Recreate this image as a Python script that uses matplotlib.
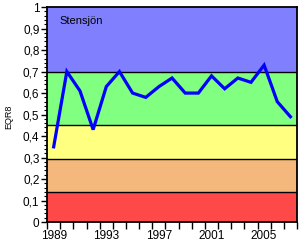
import matplotlib
matplotlib.use("Agg")
import matplotlib.pyplot as plt
from matplotlib.ticker import MultipleLocator, FixedLocator, FuncFormatter

plt.rcParams['font.family'] = ['Liberation Sans', 'DejaVu Sans']

years = list(range(1989, 2008))
eqr8 = [0.35, 0.70, 0.61, 0.43, 0.63, 0.70, 0.60, 0.58, 0.63, 0.67,
        0.60, 0.60, 0.68, 0.62, 0.67, 0.65, 0.73, 0.56, 0.49]
band_edges = [0.0, 0.14, 0.295, 0.45, 0.697, 1.0]
band_colors = ['#FF4848', '#F4B87C', '#FFFF80', '#80FF80', '#8080FF']
tick_years = [1989, 1993, 1997, 2001, 2005]
lake = 'Stensjön'
ylabel = 'EQR8'

fig = plt.figure(figsize=(3.0, 2.43), dpi=100)
ax = fig.add_axes([0.157, 0.086, 0.833, 0.885])

for lo, hi, c in zip(band_edges[:-1], band_edges[1:], band_colors):
    ax.axhspan(lo, hi, facecolor=c, edgecolor='none', zorder=0)
for e in band_edges[1:-1]:
    ax.axhline(e, color='black', lw=1.0, zorder=1)

ax.plot(years, eqr8, color='#0000FF', lw=2.3, zorder=3, solid_joinstyle='miter')

ax.set_xlim(1988.5, 2007.5)
ax.set_ylim(0, 1)
ax.xaxis.set_major_locator(FixedLocator([y - 0.5 for y in range(1989, 2009)]))
ax.set_xticklabels([])
for y in tick_years:
    ax.text(y, -0.035, str(y), ha='center', va='top', fontsize=8.5,
            transform=ax.transData)
ax.tick_params(axis='x', which='major', direction='out', length=5, width=1)

ax.yaxis.set_major_locator(MultipleLocator(0.1))
ax.yaxis.set_minor_locator(MultipleLocator(0.02))
ax.yaxis.set_major_formatter(FuncFormatter(
    lambda v, p: '0' if abs(v) < 1e-9 else ('1' if abs(v - 1) < 1e-9 else f'{v:.1f}'.replace('.', ','))))
ax.tick_params(axis='y', which='major', direction='out', length=4, width=1, labelsize=8.5, pad=1.5)
ax.tick_params(axis='y', which='minor', direction='out', length=2, width=0.8)

for s in ax.spines.values():
    s.set_linewidth(1.3)
    s.set_color('black')

ax.text(1989.45, 0.935, lake, fontsize=8, ha='left', va='center')
fig.text(0.03, 0.52, ylabel, rotation=90, fontsize=6.5, ha='center', va='center')

fig.savefig('out.png', dpi=100)
